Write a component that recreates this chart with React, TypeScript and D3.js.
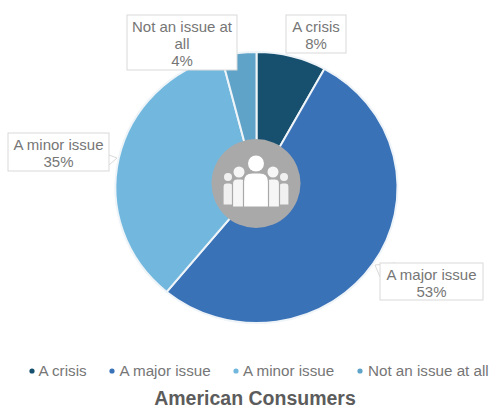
import React from "react";
import * as d3 from "d3";

const categories = ["A crisis", "A major issue", "A minor issue", "Not an issue at all"];
const shares = [8, 53, 35, 4];
const sliceColors = ["#17506f", "#3a72b8", "#72b8de", "#5fa3c8"];
const calloutLines = [["A crisis", "8%"], ["A major issue", "53%"], ["A minor issue", "35%"], ["Not an issue at", "all", "4%"]];
const calloutBoxes = [
  { x: 286, y: 15, w: 60, h: 38 },
  { x: 380, y: 263, w: 103, h: 37 },
  { x: 8, y: 133, w: 101, h: 38 },
  { x: 127, y: 15, w: 110, h: 55 },
];
const legendDotX = [32, 112, 236, 360];
const legendTextX = [38.5, 119.5, 243, 368];
const title = "American Consumers";

const FONT = "'Liberation Sans', Arial, sans-serif";
const CX = 256.5;
const CY = 187.5;
const RX = 141;
const RY = 135.5;
const BADGE = "#a9a9a9";

// One figure of the pictogram: head above a round-shouldered body.
function Person({ x, headY, headR, halfW, top, bottom, fill }: { x: number; headY: number; headR: number; halfW: number; top: number; bottom: number; fill: string }) {
  return (
    <g fill={fill} stroke={BADGE} strokeWidth={1.2}>
      <circle cx={x} cy={headY} r={headR} stroke="none" />
      <path d={`M${x - halfW},${bottom} L${x - halfW},${top + halfW * 0.7} Q${x - halfW},${top} ${x - halfW * 0.3},${top} L${x + halfW * 0.3},${top} Q${x + halfW},${top} ${x + halfW},${top + halfW * 0.7} L${x + halfW},${bottom} Z`} />
    </g>
  );
}

export default function App() {
  const pie = d3.pie<number>().sort(null).value((d) => d);
  const arc = d3.arc<d3.PieArcDatum<number>>().innerRadius(0).outerRadius(1);
  const arcs = pie(shares);

  return (
    <svg width={490} height={409} style={{ position: "absolute", left: 0, top: 0, background: "#fff" }} fontFamily={FONT}>
      <g transform={`translate(${CX},${CY}) scale(${RX},${RY})`}>
        {arcs.map((a, i) => (
          <path key={categories[i]} d={arc(a) ?? ""} fill={sliceColors[i]} stroke="#eef4f8" strokeWidth={2} vectorEffect="non-scaling-stroke" />
        ))}
      </g>

      <circle cx={256} cy={183.5} r={44.5} fill={BADGE} />
      <Person x={228} headY={177} headR={4} halfW={5} top={183} bottom={205} fill="#f0f0f0" />
      <Person x={284} headY={177} headR={4} halfW={5} top={183} bottom={205} fill="#f0f0f0" />
      <Person x={239} headY={172} headR={5.5} halfW={6.5} top={179} bottom={207} fill="#f6f6f6" />
      <Person x={273} headY={172} headR={5.5} halfW={6.5} top={179} bottom={207} fill="#f6f6f6" />
      <Person x={256} headY={163.5} headR={8} halfW={12.5} top={173} bottom={207} fill="#ffffff" />

      {/* Pointers tying the side callouts to their slices */}
      <path d="M109,155 L117,158 L109,165" fill="#fff" stroke="#d9d9d9" />
      <path d="M380,277 L375,265 L395,263" fill="#fff" stroke="#d9d9d9" />

      {calloutBoxes.map((b, i) => (
        <g key={categories[i]}>
          <rect x={b.x} y={b.y} width={b.w} height={b.h} fill="#fff" stroke="#d9d9d9" />
          {calloutLines[i].map((line, j) => (
            <text key={j} x={b.x + b.w / 2} y={b.y + 17 + j * 17} textAnchor="middle" fontSize={15} fill="#767676">
              {line}
            </text>
          ))}
        </g>
      ))}

      {categories.map((c, i) => (
        <g key={c}>
          <circle cx={legendDotX[i]} cy={371} r={2.6} fill={sliceColors[i]} />
          <text x={legendTextX[i]} y={376} fontSize={15.2} fill="#767676">{c}</text>
        </g>
      ))}

      <text x={255} y={404.5} textAnchor="middle" fontSize={19.5} fontWeight={700} fill="#5c5c5c">{title}</text>
    </svg>
  );
}
